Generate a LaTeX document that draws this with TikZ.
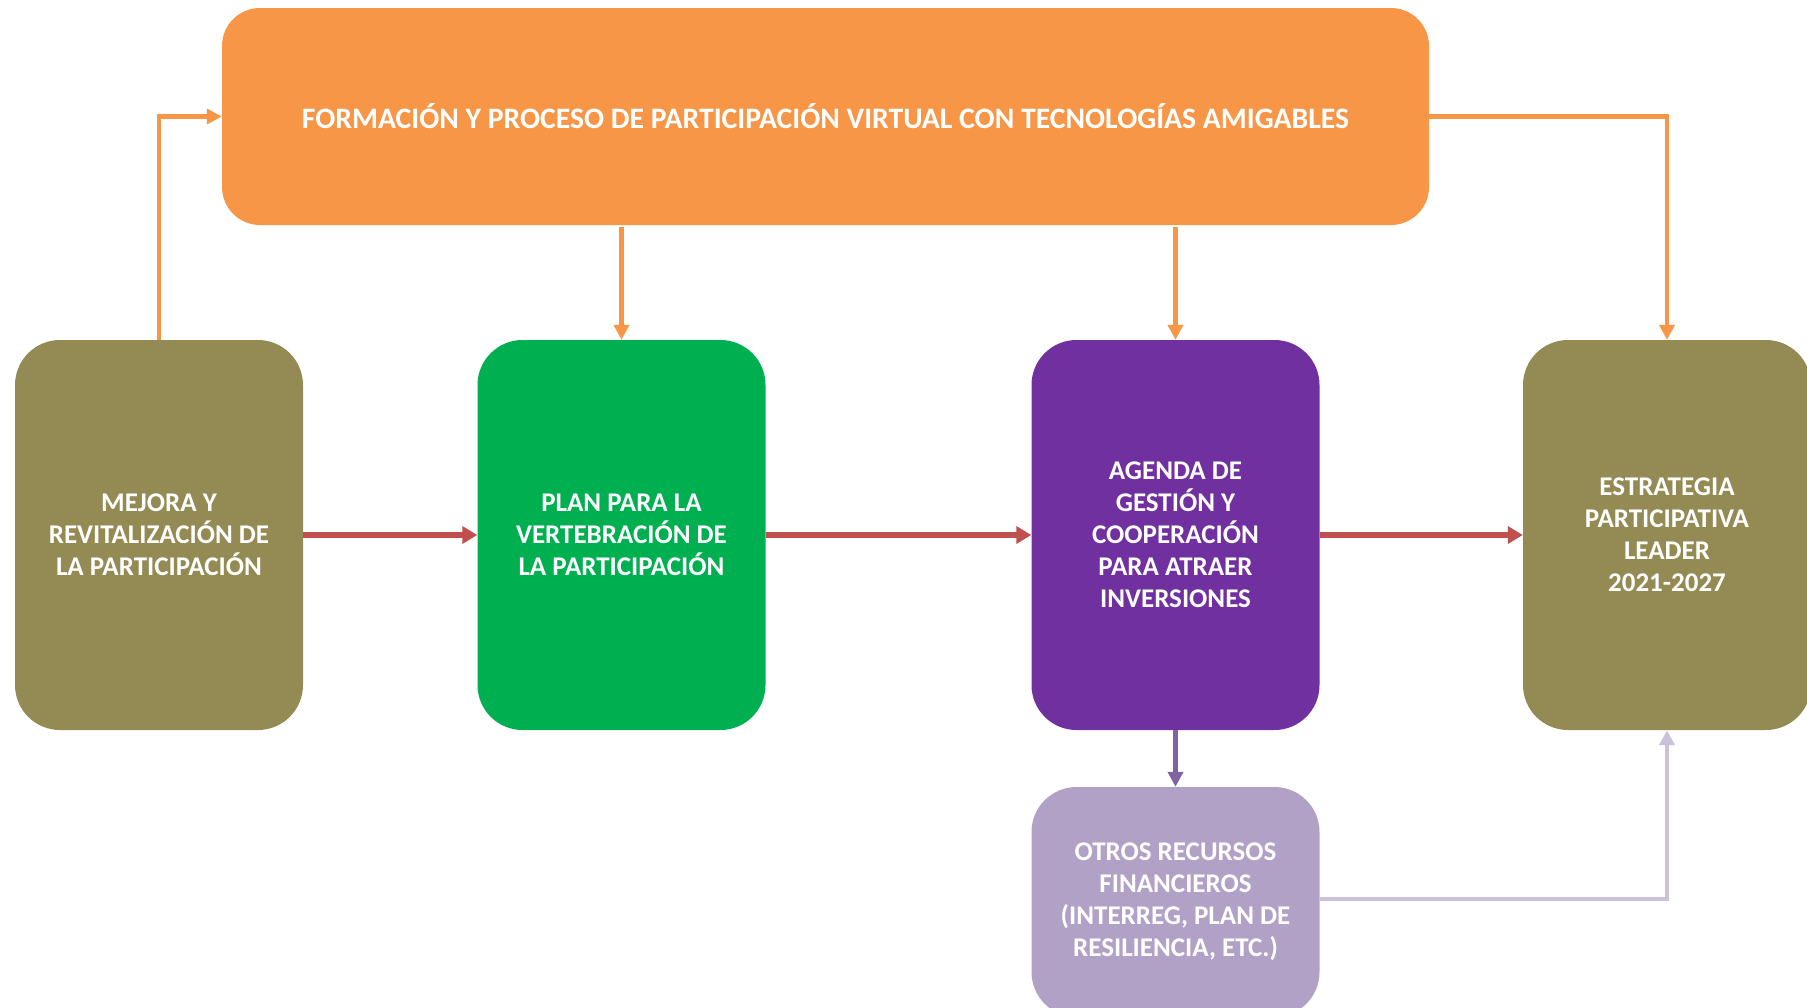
\documentclass[tikz,border=0pt]{standalone}
\usepackage{fontspec}
\setmainfont{Carlito}
\usetikzlibrary{arrows.meta}
\definecolor{orangeC}{HTML}{F79646}
\definecolor{oliveC}{HTML}{948A54}
\definecolor{greenC}{HTML}{00B050}
\definecolor{purpleC}{HTML}{7030A0}
\definecolor{lilacC}{HTML}{B2A1C7}
\definecolor{redC}{HTML}{C0504D}
\definecolor{arrowPurple}{HTML}{8064A2}
\definecolor{arrowLilac}{HTML}{CCC1DA}
\begin{document}
\begin{tikzpicture}[x=1pt,y=-1pt,
  box/.style={rounded corners=45pt, inner sep=0pt, minimum width=288pt, minimum height=390pt,
    text=white, align=center, font=\fontsize{27}{32}\selectfont\bfseries},
  orangeline/.style={draw=orangeC, line width=4.5pt, -{Triangle[length=15pt,width=15pt]}},
  redline/.style={draw=redC, line width=5.5pt, -{Triangle[length=15pt,width=17pt]}},
]
\useasboundingbox (0,0) rectangle (1807,1007);
\node[rounded corners=38pt, fill=orangeC, inner sep=0pt, minimum width=1207pt, minimum height=217pt,
  text=white, font=\fontsize{29.7}{34}\selectfont\bfseries] (O) at (825.5,116.5)
  {FORMACIÓN Y PROCESO DE PARTICIPACIÓN VIRTUAL CON TECNOLOGÍAS AMIGABLES};
\node[box, fill=oliveC] (A) at (159,535) {MEJORA Y\\REVITALIZACIÓN DE\\LA PARTICIPACIÓN};
\node[box, fill=greenC] (B) at (621.5,535) {PLAN PARA LA\\VERTEBRACIÓN DE\\LA PARTICIPACIÓN};
\node[box, fill=purpleC] (C) at (1175.5,535) {AGENDA DE\\GESTIÓN Y\\COOPERACIÓN\\PARA ATRAER\\INVERSIONES};
\node[box, fill=oliveC] (D) at (1667,535) {ESTRATEGIA\\PARTICIPATIVA\\LEADER\\2021-2027};
\node[box, fill=lilacC, minimum height=230pt] (E) at (1175.5,902) {OTROS RECURSOS\\FINANCIEROS\\(INTERREG, PLAN DE\\RESILIENCIA, ETC.)};
% orange connectors
\draw[orangeline] (A.north) |- (O.west);
\draw[orangeline, shorten <=2pt] (O.south -| B.north) -- (B.north);
\draw[orangeline, shorten <=2pt] (O.south -| C.north) -- (C.north);
\draw[orangeline] (O.east) -| (D.north);
% red connectors
\draw[redline] (A.east) -- (B.west);
\draw[redline] (B.east) -- (C.west);
\draw[redline] (C.east) -- (D.west);
% purple connectors
\draw[draw=arrowPurple, line width=4.5pt, -{Triangle[length=15pt,width=15pt]}] (C.south) -- (E.north);
\draw[draw=arrowLilac, line width=4.5pt, -{Triangle[length=15pt,width=15pt]}] ([yshift=3pt]E.east) -| (D.south);
\end{tikzpicture}
\end{document}
